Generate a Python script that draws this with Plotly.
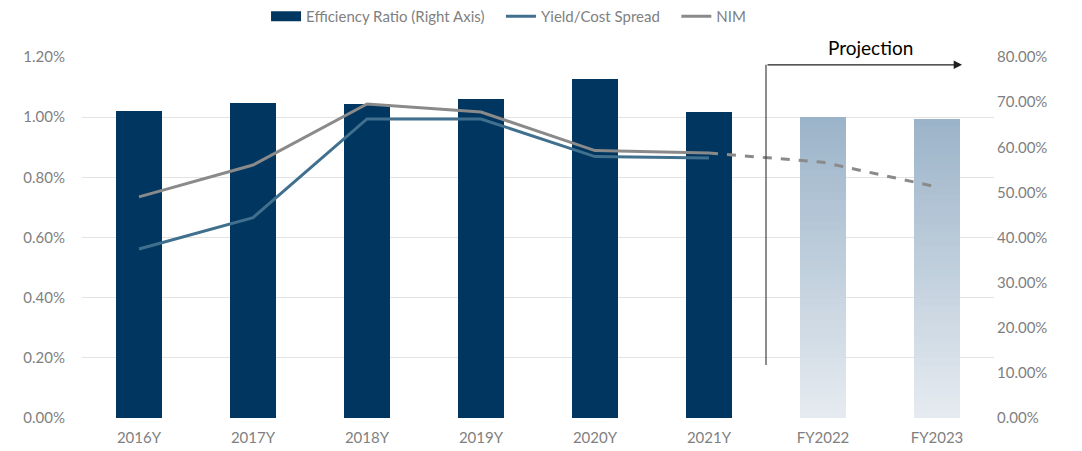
import plotly.graph_objects as go

categories = ["2016Y", "2017Y", "2018Y", "2019Y", "2020Y", "2021Y", "FY2022", "FY2023"]
efficiency_ratio = [0.681, 0.698, 0.696, 0.708, 0.751, 0.678, 0.667, 0.663]
yield_cost_spread = [0.00562, 0.00666, 0.00994, 0.00994, 0.00869, 0.00864]
nim = [0.00735, 0.00841, 0.01044, 0.01017, 0.00889, 0.00881, 0.00850, 0.00768]
n_actual = 6

FONT = "Lato"
GRAY_TXT = "#7f7f7f"
NAVY = "#00365f"
BLUE = "#41708f"
GRAY = "#8a8a8a"
PAD = "\u00a0\u00a0\u00a0"

fig = go.Figure()

# legend-only swatch for the bar series (wide rectangle like the reference)
fig.add_trace(go.Scatter(
    x=[None], y=[None], mode="lines", name="Efficiency Ratio (Right Axis)" + PAD,
    line=dict(color=NAVY, width=10), yaxis="y", legendrank=1, hoverinfo="skip",
))

# actual bars (right axis)
fig.add_trace(go.Bar(
    x=categories[:n_actual], y=efficiency_ratio[:n_actual],
    name="Efficiency Ratio (Right Axis)", marker=dict(color=NAVY, line=dict(width=0)),
    width=0.41, yaxis="y", showlegend=False,
))

# projected bars drawn as stacked segments to imitate a vertical gradient
n_seg = 40
top_c = (155, 179, 200)
bot_c = (230, 235, 241)
for i in range(n_seg):
    t = (i + 0.5) / n_seg
    c = tuple(round(bot_c[k] + (top_c[k] - bot_c[k]) * t) for k in range(3))
    fig.add_trace(go.Bar(
        x=categories[n_actual:], y=[v / n_seg for v in efficiency_ratio[n_actual:]],
        marker=dict(color="rgb(%d,%d,%d)" % c, line=dict(width=0)),
        width=0.41, yaxis="y", showlegend=False, hoverinfo="skip",
    ))

fig.add_trace(go.Scatter(
    x=categories[:n_actual], y=yield_cost_spread, mode="lines",
    name="Yield/Cost Spread" + PAD, line=dict(color=BLUE, width=3), yaxis="y2", legendrank=2,
))
fig.add_trace(go.Scatter(
    x=categories[:n_actual], y=nim[:n_actual], mode="lines",
    name="NIM", line=dict(color=GRAY, width=3), yaxis="y2", legendrank=3,
))
fig.add_trace(go.Scatter(
    x=categories[n_actual - 1:], y=nim[n_actual - 1:], mode="lines",
    line=dict(color=GRAY, width=3, dash="dash"), yaxis="y2", showlegend=False,
))

# Projection marker
fig.add_shape(type="line", xref="x", yref="y2", x0=5.5, x1=5.5, y0=0.00176, y1=0.01174,
              line=dict(color="#404040", width=1.2))
fig.add_annotation(x=7.22, y=0.01174, ax=5.5, ay=0.01174, xref="x", yref="y2",
                   axref="x", ayref="y2", text="", showarrow=True, arrowhead=2,
                   arrowsize=1.4, arrowwidth=1.2, arrowcolor="#202020")
fig.add_annotation(x=6.42, y=1.0, xref="x", yref="paper", yanchor="bottom", yshift=-4,
                   text="Projection", showarrow=False, bgcolor="white",
                   font=dict(family=FONT, size=19, color="#000000"))

fig.update_layout(
    width=1082, height=451,
    margin=dict(l=82, r=88, t=57, b=33, autoexpand=False),
    plot_bgcolor="white", paper_bgcolor="white",
    barmode="stack", bargap=0.59,
    font=dict(family=FONT, size=15, color=GRAY_TXT),
    showlegend=True,
    legend=dict(orientation="h", x=0.47, xanchor="center", y=1.0, yanchor="top",
                xref="container", yref="container",
                font=dict(family=FONT, size=15, color=GRAY_TXT),
                traceorder="normal", itemwidth=30),
    xaxis=dict(type="category", categoryorder="array", categoryarray=categories,
               showgrid=False, showline=False, ticks="", tickfont=dict(size=15, color=GRAY_TXT),
               ticklabelstandoff=9, range=[-0.5, 7.5]),
    yaxis=dict(side="right", range=[0, 0.8], dtick=0.1, tickformat=".2%", showgrid=False,
               zeroline=False, showline=False, ticks="", tickfont=dict(size=15, color=GRAY_TXT),
               ticklabelstandoff=2),
    yaxis2=dict(side="left", overlaying="y", range=[0, 0.012], dtick=0.002, tickformat=".2%",
                showgrid=True, gridcolor="#e3e3e3", gridwidth=1, zeroline=False,
                showline=False, ticks="", tickfont=dict(size=15, color=GRAY_TXT),
                ticklabelstandoff=16),
)

fig.write_html("out.html", config={"displayModeBar": False},
               post_script="document.body.style.margin='0px';")
